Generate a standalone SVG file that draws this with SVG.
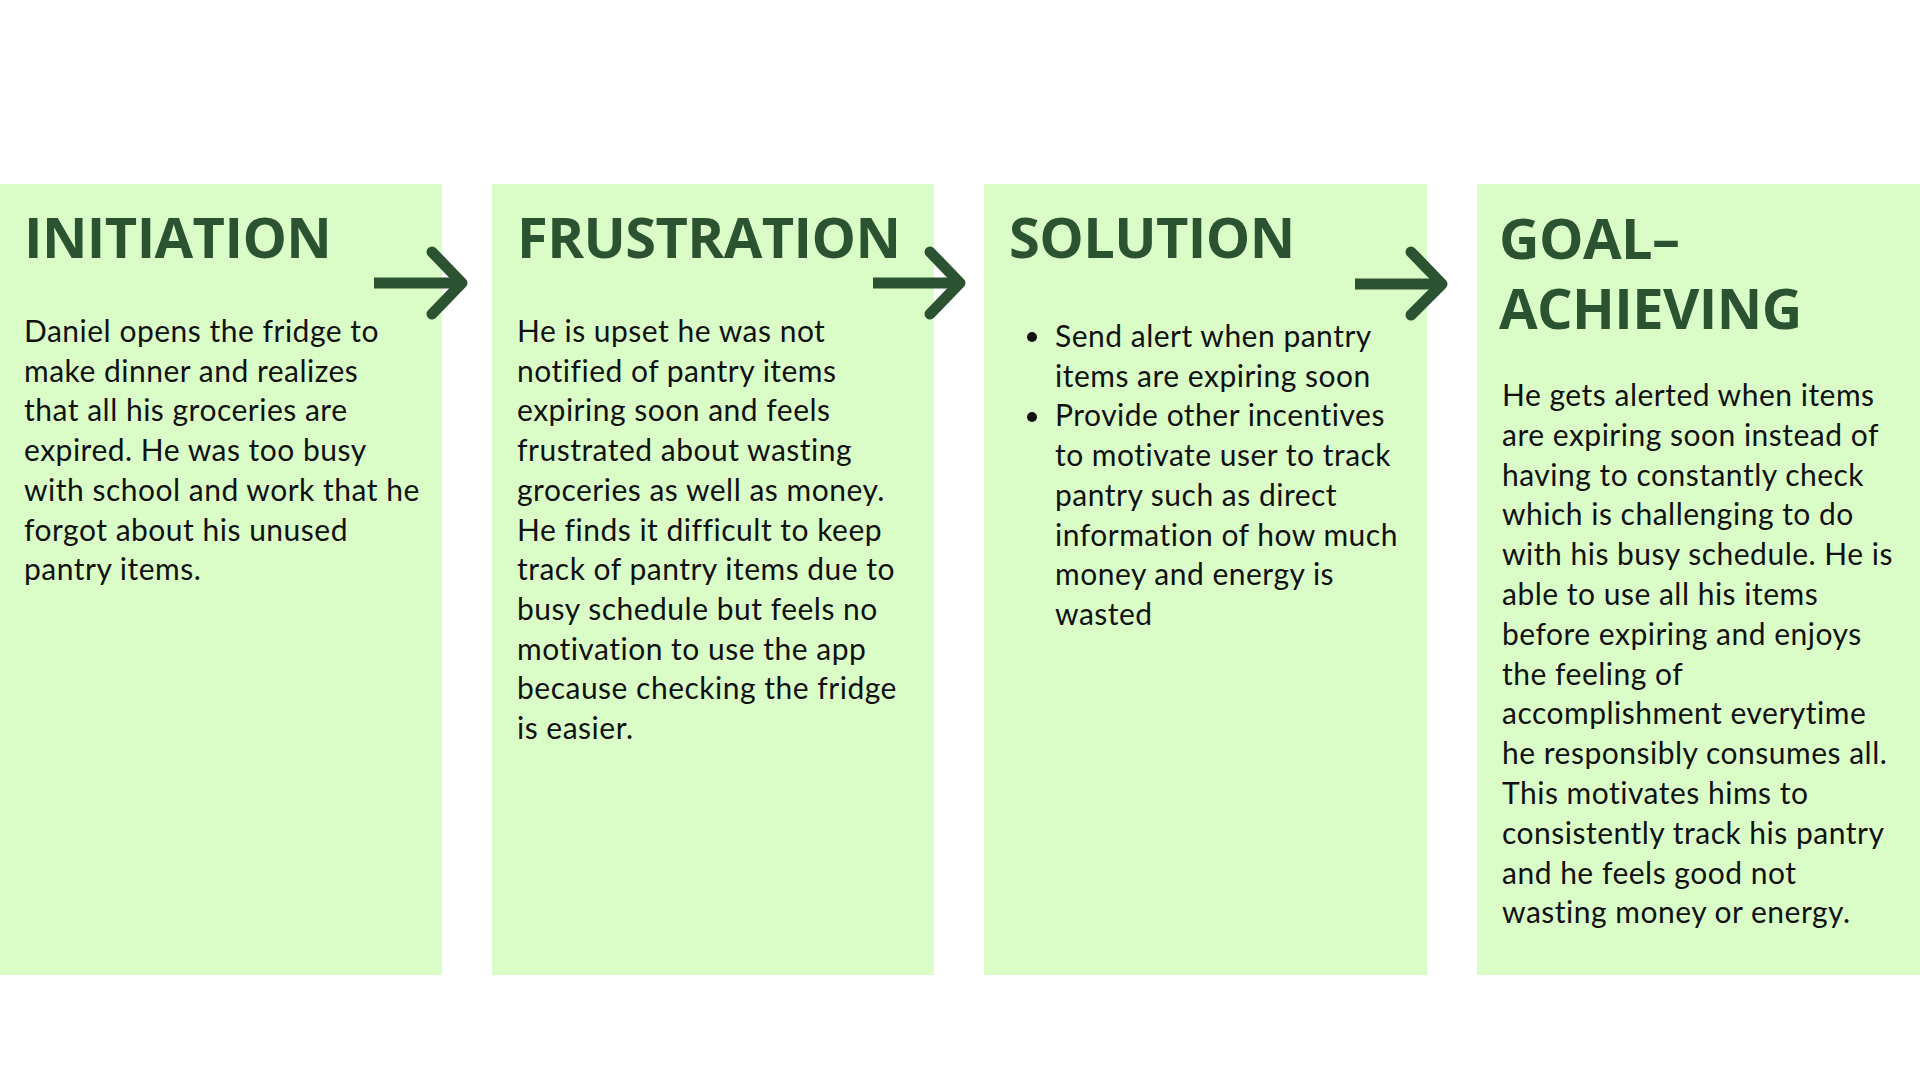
<svg xmlns="http://www.w3.org/2000/svg" width="1920" height="1080" viewBox="0 0 1920 1080">
<style>
.box{fill:#dafdc7}
.title{font-family:"Open Sans","Noto Sans",sans-serif;font-weight:700;font-size:56px;letter-spacing:-0.6px;fill:#2b5331}
.body{font-family:Lato,"Noto Sans",sans-serif;font-size:30px;letter-spacing:0.5px;fill:#111111}
.arrow{fill:none;stroke:#2b5331;stroke-width:11;stroke-linecap:round;stroke-linejoin:round}
.shaft{fill:none;stroke:#2b5331;stroke-width:11;stroke-linecap:butt}
</style>
<rect width="1920" height="1080" fill="#ffffff"/>
<g id="initiation">
<rect class="box" x="0" y="184" width="442" height="791"/>
<text class="title" x="24" y="258">INITIATION</text>
<text class="body">
<tspan x="24" y="342">Daniel opens the fridge to</tspan>
<tspan x="24" y="381.7">make dinner and realizes</tspan>
<tspan x="24" y="421.4">that all his groceries are</tspan>
<tspan x="24" y="461.1">expired. He was too busy</tspan>
<tspan x="24" y="500.8">with school and work that he</tspan>
<tspan x="24" y="540.5">forgot about his unused</tspan>
<tspan x="24" y="580.2">pantry items.</tspan>
</text>
</g>
<g id="frustration">
<rect class="box" x="492" y="184" width="442" height="791"/>
<text class="title" x="517" y="258">FRUSTRATION</text>
<text class="body">
<tspan x="517" y="342">He is upset he was not</tspan>
<tspan x="517" y="381.7">notified of pantry items</tspan>
<tspan x="517" y="421.4">expiring soon and feels</tspan>
<tspan x="517" y="461.1">frustrated about wasting</tspan>
<tspan x="517" y="500.8">groceries as well as money.</tspan>
<tspan x="517" y="540.5">He finds it difficult to keep</tspan>
<tspan x="517" y="580.2">track of pantry items due to</tspan>
<tspan x="517" y="619.9">busy schedule but feels no</tspan>
<tspan x="517" y="659.6">motivation to use the app</tspan>
<tspan x="517" y="699.3">because checking the fridge</tspan>
<tspan x="517" y="739">is easier.</tspan>
</text>
</g>
<g id="solution">
<rect class="box" x="984" y="184" width="443" height="791"/>
<text class="title" x="1009" y="258">SOLUTION</text>
<circle cx="1032" cy="337" r="5" fill="#111111"/>
<circle cx="1032" cy="417" r="5" fill="#111111"/>
<text class="body">
<tspan x="1055" y="347">Send alert when pantry</tspan>
<tspan x="1055" y="386.7">items are expiring soon</tspan>
<tspan x="1055" y="426.4">Provide other incentives</tspan>
<tspan x="1055" y="466.1">to motivate user to track</tspan>
<tspan x="1055" y="505.8">pantry such as direct</tspan>
<tspan x="1055" y="545.5">information of how much</tspan>
<tspan x="1055" y="585.2">money and energy is</tspan>
<tspan x="1055" y="624.9">wasted</tspan>
</text>
</g>
<g id="goal-achieving">
<rect class="box" x="1477" y="184" width="443" height="791"/>
<text class="title" x="1499" y="259">GOAL–</text>
<text class="title" x="1499" y="329">ACHIEVING</text>
<text class="body">
<tspan x="1502" y="406">He gets alerted when items</tspan>
<tspan x="1502" y="445.8">are expiring soon instead of</tspan>
<tspan x="1502" y="485.6">having to constantly check</tspan>
<tspan x="1502" y="525.4">which is challenging to do</tspan>
<tspan x="1502" y="565.2">with his busy schedule. He is</tspan>
<tspan x="1502" y="605">able to use all his items</tspan>
<tspan x="1502" y="644.8">before expiring and enjoys</tspan>
<tspan x="1502" y="684.6">the feeling of</tspan>
<tspan x="1502" y="724.4">accomplishment everytime</tspan>
<tspan x="1502" y="764.2">he responsibly consumes all.</tspan>
<tspan x="1502" y="804">This motivates hims to</tspan>
<tspan x="1502" y="843.8">consistently track his pantry</tspan>
<tspan x="1502" y="883.6">and he feels good not</tspan>
<tspan x="1502" y="923.4">wasting money or energy.</tspan>
</text>
</g>
<g id="connectors">
<path class="shaft" d="M374 283 H460"/>
<path class="arrow" d="M432 252 L462 283 L432 314"/>
<path class="shaft" d="M873 283 H958"/>
<path class="arrow" d="M930 252 L960 283 L930 314"/>
<path class="shaft" d="M1355 284 H1440"/>
<path class="arrow" d="M1411 252 L1442 284 L1411 315"/>
</g>
</svg>
